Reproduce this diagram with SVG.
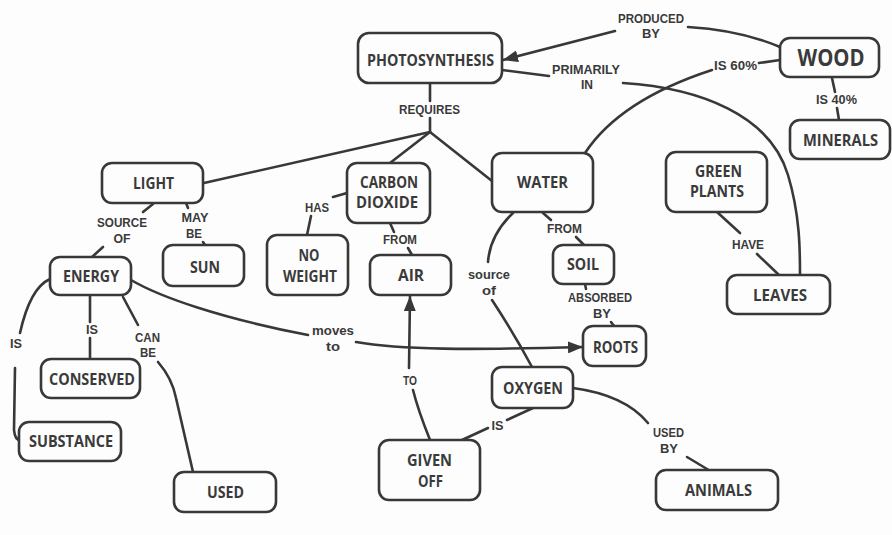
<svg xmlns="http://www.w3.org/2000/svg" width="892" height="535" viewBox="0 0 892 535">
  <defs>
    <style>
      .node rect { fill: #fdfdfd; stroke: #383838; stroke-width: 2.6; }
      .nt { font-family: "Open Sans", "Liberation Sans", sans-serif; font-weight: bold; font-size: 16px; fill: #3a3a3a; text-anchor: middle; }
      .big { font-size: 24px; }
      .lbl { font-family: "Liberation Sans", Arial, sans-serif; font-weight: bold; font-size: 12.5px; fill: #3a3a3a; text-anchor: middle; }
      .edges path { fill: none; stroke: #383838; stroke-width: 2.6; stroke-linecap: round; }
    </style>
    <marker id="arrow" markerUnits="userSpaceOnUse" markerWidth="16" markerHeight="12" refX="15" refY="6" orient="auto">
      <path d="M0,0 L15,6 L0,12 z" fill="#383838"/>
    </marker>
  </defs>

  <rect width="892" height="535" fill="#fdfdfd"/>

  <!-- connectors -->
  <g class="edges">
    <path d="M430,83 L430,101"/>
    <path d="M430,118 L430,132"/>
    <path d="M430,132 L204,183"/>
    <path d="M430,132 L390,163"/>
    <path d="M430,132 L492,181"/>
    <path d="M780,47 Q740,30 688,27"/>
    <path d="M615,31 L503,60" marker-end="url(#arrow)"/>
    <path d="M502,70 L549,76"/>
    <path d="M623,83 C700,88 770,115 788,175 C800,215 800,250 800,275"/>
    <path d="M780,60 L759,63"/>
    <path d="M712,70 Q620,100 585,153"/>
    <path d="M832,78 L835,92"/>
    <path d="M837,108 L839,120"/>
    <path d="M347,193 L333,197"/>
    <path d="M311,216 L307,235"/>
    <path d="M390,223 L394,232"/>
    <path d="M408,248 L412,255"/>
    <path d="M153,204 L143,212"/>
    <path d="M103,247 L92,257"/>
    <path d="M186,203 L188,208"/>
    <path d="M203,242 L205,245"/>
    <path d="M50,279 Q30,288 20,333"/>
    <path d="M15,368 L14,430 Q15,440 20,440"/>
    <path d="M90,295 L90,322"/>
    <path d="M90,338 L90,359"/>
    <path d="M123,297 L138,325"/>
    <path d="M158,362 Q172,378 176,398 L193,472"/>
    <path d="M131,280 C160,297 220,318 308,335"/>
    <path d="M356,342 C400,350 470,350 583,347" marker-end="url(#arrow)"/>
    <path d="M513,213 Q490,235 488,262"/>
    <path d="M492,300 Q515,335 532,367"/>
    <path d="M543,213 L551,220"/>
    <path d="M576,237 L584,245"/>
    <path d="M585,284 L586,289"/>
    <path d="M611,322 L614,326"/>
    <path d="M717,212 L740,233"/>
    <path d="M757,254 L779,275"/>
    <path d="M430,440 Q418,410 413,390"/>
    <path d="M409,368 L410,296" marker-end="url(#arrow)"/>
    <path d="M462,440 L488,428"/>
    <path d="M507,420 L533,408"/>
    <path d="M573,388 Q625,395 648,423"/>
    <path d="M687,457 L712,472"/>
  </g>

  <!-- link labels -->
  <g id="link-labels">
    <text class="lbl" x="429.5" y="114" textLength="61" lengthAdjust="spacingAndGlyphs">REQUIRES</text>
    <text class="lbl" x="651" y="23" textLength="66" lengthAdjust="spacingAndGlyphs">PRODUCED</text>
    <text class="lbl" x="651" y="38" textLength="18" lengthAdjust="spacingAndGlyphs">BY</text>
    <text class="lbl" x="586" y="74" textLength="68" lengthAdjust="spacingAndGlyphs">PRIMARILY</text>
    <text class="lbl" x="587" y="89" textLength="12" lengthAdjust="spacingAndGlyphs">IN</text>
    <text class="lbl" x="735.5" y="70" textLength="43" lengthAdjust="spacingAndGlyphs">IS 60%</text>
    <text class="lbl" x="836.5" y="104" textLength="41" lengthAdjust="spacingAndGlyphs">IS 40%</text>
    <text class="lbl" x="317" y="212" textLength="24" lengthAdjust="spacingAndGlyphs">HAS</text>
    <text class="lbl" x="122" y="227" textLength="50" lengthAdjust="spacingAndGlyphs">SOURCE</text>
    <text class="lbl" x="122" y="243" textLength="17" lengthAdjust="spacingAndGlyphs">OF</text>
    <text class="lbl" x="195" y="222" textLength="27" lengthAdjust="spacingAndGlyphs">MAY</text>
    <text class="lbl" x="194" y="238" textLength="16" lengthAdjust="spacingAndGlyphs">BE</text>
    <text class="lbl" x="400" y="244" textLength="34" lengthAdjust="spacingAndGlyphs">FROM</text>
    <text class="lbl" x="564.5" y="233" textLength="35" lengthAdjust="spacingAndGlyphs">FROM</text>
    <text class="lbl" x="489" y="279" textLength="42" lengthAdjust="spacingAndGlyphs">source</text>
    <text class="lbl" x="489" y="295" textLength="14" lengthAdjust="spacingAndGlyphs">of</text>
    <text class="lbl" x="600" y="302" textLength="64" lengthAdjust="spacingAndGlyphs">ABSORBED</text>
    <text class="lbl" x="602" y="318" textLength="18" lengthAdjust="spacingAndGlyphs">BY</text>
    <text class="lbl" x="748" y="249" textLength="32" lengthAdjust="spacingAndGlyphs">HAVE</text>
    <text class="lbl" x="16" y="348" textLength="12" lengthAdjust="spacingAndGlyphs">IS</text>
    <text class="lbl" x="92" y="334" textLength="12" lengthAdjust="spacingAndGlyphs">IS</text>
    <text class="lbl" x="147.5" y="342" textLength="25" lengthAdjust="spacingAndGlyphs">CAN</text>
    <text class="lbl" x="148" y="357" textLength="16" lengthAdjust="spacingAndGlyphs">BE</text>
    <text class="lbl" x="333" y="335" textLength="42" lengthAdjust="spacingAndGlyphs">moves</text>
    <text class="lbl" x="333" y="351" textLength="14" lengthAdjust="spacingAndGlyphs">to</text>
    <text class="lbl" x="410" y="385" textLength="14" lengthAdjust="spacingAndGlyphs">TO</text>
    <text class="lbl" x="497.5" y="430" textLength="12" lengthAdjust="spacingAndGlyphs">IS</text>
    <text class="lbl" x="668.5" y="437" textLength="31" lengthAdjust="spacingAndGlyphs">USED</text>
    <text class="lbl" x="669" y="453" textLength="18" lengthAdjust="spacingAndGlyphs">BY</text>
  </g>

  <!-- concept nodes -->
  <g id="photosynthesis" class="node">
    <rect x="358" y="33" width="144" height="50" rx="11"/>
    <text class="nt" x="430.5" y="66" textLength="127" lengthAdjust="spacingAndGlyphs">PHOTOSYNTHESIS</text>
  </g>
  <g id="wood" class="node">
    <rect x="780" y="38" width="99" height="39" rx="10"/>
    <text class="nt big" x="831" y="66" textLength="67" lengthAdjust="spacingAndGlyphs">WOOD</text>
  </g>
  <g id="minerals" class="node">
    <rect x="790" y="120" width="100" height="39" rx="10"/>
    <text class="nt" x="840.5" y="146" textLength="75" lengthAdjust="spacingAndGlyphs">MINERALS</text>
  </g>
  <g id="light" class="node">
    <rect x="102" y="163" width="101" height="40" rx="10"/>
    <text class="nt" x="153.5" y="189" textLength="41" lengthAdjust="spacingAndGlyphs">LIGHT</text>
  </g>
  <g id="carbon-dioxide" class="node">
    <rect x="347" y="163" width="83" height="60" rx="10"/>
    <text class="nt" x="389" y="188" textLength="58" lengthAdjust="spacingAndGlyphs">CARBON</text>
    <text class="nt" x="387" y="208" textLength="62" lengthAdjust="spacingAndGlyphs">DIOXIDE</text>
  </g>
  <g id="water" class="node">
    <rect x="492" y="153" width="101" height="59" rx="10"/>
    <text class="nt" x="542.5" y="188" textLength="51" lengthAdjust="spacingAndGlyphs">WATER</text>
  </g>
  <g id="green-plants" class="node">
    <rect x="666" y="152" width="101" height="60" rx="10"/>
    <text class="nt" x="718.5" y="177" textLength="47" lengthAdjust="spacingAndGlyphs">GREEN</text>
    <text class="nt" x="717" y="197" textLength="54" lengthAdjust="spacingAndGlyphs">PLANTS</text>
  </g>
  <g id="sun" class="node">
    <rect x="163" y="245" width="81" height="41" rx="10"/>
    <text class="nt" x="205" y="273" textLength="30" lengthAdjust="spacingAndGlyphs">SUN</text>
  </g>
  <g id="no-weight" class="node">
    <rect x="267" y="235" width="81" height="60" rx="10"/>
    <text class="nt" x="309" y="261" textLength="21" lengthAdjust="spacingAndGlyphs">NO</text>
    <text class="nt" x="310" y="282" textLength="54" lengthAdjust="spacingAndGlyphs">WEIGHT</text>
  </g>
  <g id="air" class="node">
    <rect x="370" y="255" width="81" height="40" rx="10"/>
    <text class="nt" x="411" y="281" textLength="26" lengthAdjust="spacingAndGlyphs">AIR</text>
  </g>
  <g id="soil" class="node">
    <rect x="553" y="245" width="61" height="39" rx="10"/>
    <text class="nt" x="583" y="270" textLength="32" lengthAdjust="spacingAndGlyphs">SOIL</text>
  </g>
  <g id="leaves" class="node">
    <rect x="727" y="275" width="103" height="39" rx="10"/>
    <text class="nt" x="780" y="301" textLength="54" lengthAdjust="spacingAndGlyphs">LEAVES</text>
  </g>
  <g id="energy" class="node">
    <rect x="50" y="257" width="81" height="38" rx="10"/>
    <text class="nt" x="91" y="282" textLength="56" lengthAdjust="spacingAndGlyphs">ENERGY</text>
  </g>
  <g id="roots" class="node">
    <rect x="583" y="326" width="63" height="40" rx="10"/>
    <text class="nt" x="615.5" y="353" textLength="45" lengthAdjust="spacingAndGlyphs">ROOTS</text>
  </g>
  <g id="conserved" class="node">
    <rect x="41" y="359" width="99" height="39" rx="10"/>
    <text class="nt" x="92" y="385" textLength="86" lengthAdjust="spacingAndGlyphs">CONSERVED</text>
  </g>
  <g id="oxygen" class="node">
    <rect x="492" y="367" width="81" height="41" rx="10"/>
    <text class="nt" x="533" y="394" textLength="60" lengthAdjust="spacingAndGlyphs">OXYGEN</text>
  </g>
  <g id="substance" class="node">
    <rect x="19" y="422" width="102" height="39" rx="10"/>
    <text class="nt" x="71" y="447" textLength="84" lengthAdjust="spacingAndGlyphs">SUBSTANCE</text>
  </g>
  <g id="given-off" class="node">
    <rect x="379" y="440" width="101" height="60" rx="10"/>
    <text class="nt" x="429.5" y="466" textLength="45" lengthAdjust="spacingAndGlyphs">GIVEN</text>
    <text class="nt" x="430.5" y="487" textLength="25" lengthAdjust="spacingAndGlyphs">OFF</text>
  </g>
  <g id="used" class="node">
    <rect x="174" y="472" width="102" height="40" rx="10"/>
    <text class="nt" x="225.5" y="498" textLength="37" lengthAdjust="spacingAndGlyphs">USED</text>
  </g>
  <g id="animals" class="node">
    <rect x="656" y="470" width="122" height="40" rx="10"/>
    <text class="nt" x="718.5" y="496" textLength="67" lengthAdjust="spacingAndGlyphs">ANIMALS</text>
  </g>
</svg>
